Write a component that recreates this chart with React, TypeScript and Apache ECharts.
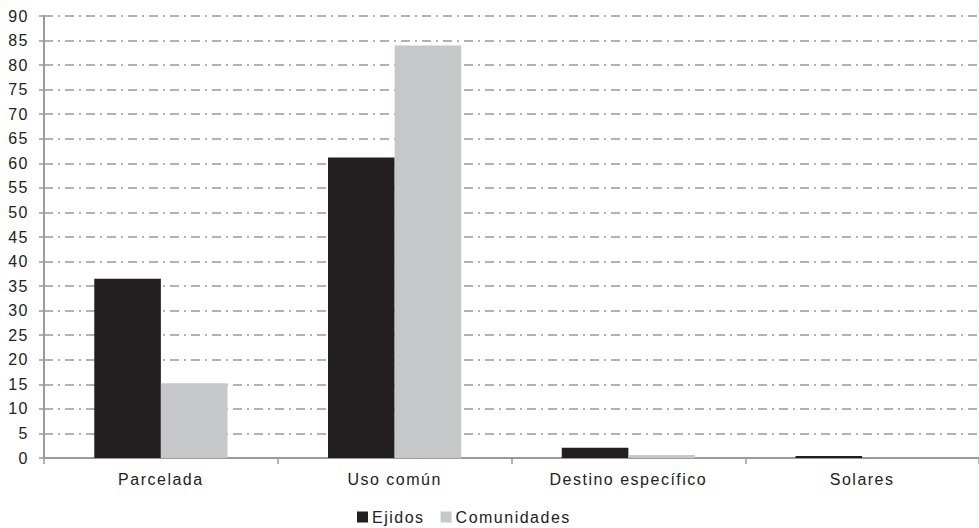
import React, { useEffect, useRef } from "react";
import * as echarts from "echarts";

const categories = ["Parcelada", "Uso común", "Destino específico", "Solares"];
const ejidos = [36.5, 61.2, 2.1, 0.4];
const comunidades = [15.2, 84.0, 0.6, 0];
const yTicks = { min: 0, max: 90, interval: 5 };

export default function App() {
  const ref = useRef<HTMLDivElement>(null);
  useEffect(() => {
    const chart = echarts.init(ref.current!, null, { renderer: "svg" });
    const font = "'Liberation Sans', Arial, sans-serif";
    chart.setOption({
      animation: false,
      backgroundColor: "#ffffff",
      grid: { left: 44, right: 0, top: 16, bottom: 70, containLabel: false },
      legend: {
        bottom: -2,
        left: 352,
        itemWidth: 11,
        itemHeight: 11,
        itemGap: 25,
        icon: "rect",
        textStyle: { fontFamily: font, fontSize: 16, color: "#222", padding: [0, 0, 0, -1] },
        data: ["Ejidos", "Comunidades"],
      },
      xAxis: {
        type: "category",
        data: categories,
        axisLine: { lineStyle: { color: "#9a9a9a", width: 2 } },
        axisTick: { show: true, length: 6, lineStyle: { color: "#9a9a9a", width: 1.5 } },
        axisLabel: { fontFamily: font, fontSize: 16, color: "#222", margin: 13 },
      },
      yAxis: {
        type: "value",
        min: yTicks.min,
        max: yTicks.max,
        interval: yTicks.interval,
        axisLine: { show: true, lineStyle: { color: "#9a9a9a", width: 2 } },
        axisTick: { show: true, length: 5, lineStyle: { color: "#9a9a9a", width: 1.5 } },
        axisLabel: { fontFamily: font, fontSize: 16, color: "#222", margin: 15 },
        splitLine: {
          show: true,
          lineStyle: { color: "#999999", width: 1.5, type: [9, 5, 2, 5] },
        },
      },
      series: [
        {
          name: "Ejidos",
          type: "bar",
          data: ejidos,
          barGap: "0%",
          barCategoryGap: "43%",
          itemStyle: { color: "#231f20" },
        },
        {
          name: "Comunidades",
          type: "bar",
          data: comunidades,
          barGap: "0%",
          barCategoryGap: "43%",
          itemStyle: { color: "#c6c7c9" },
        },
      ],
    });
    return () => chart.dispose();
  }, []);
  return (
    <div
      ref={ref}
      style={{ position: "fixed", left: 0, top: 0, width: 979, height: 528, letterSpacing: "1.5px" }}
    />
  );
}
